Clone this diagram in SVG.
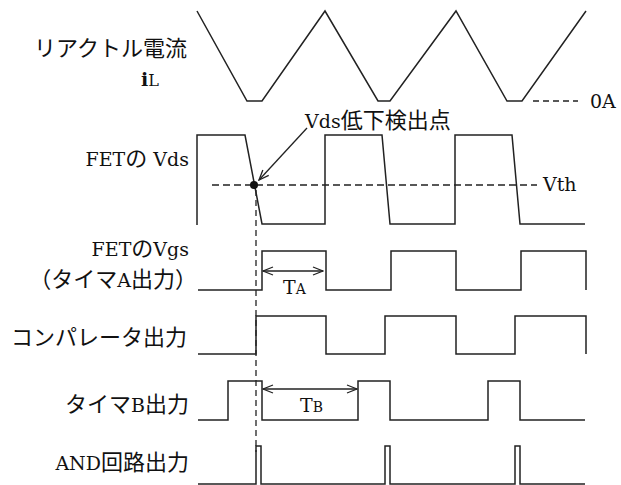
<svg xmlns="http://www.w3.org/2000/svg" width="621" height="485" viewBox="0 0 621 485">
<style>
text{font-family:"DejaVu Serif","Noto Sans CJK JP",serif;fill:#111;font-size:19px}
.j{font-family:"Noto Sans CJK JP",sans-serif;font-size:22px}
.s{font-size:14px}
.w{fill:none;stroke:#222;stroke-width:1.5}
.d{fill:none;stroke:#222;stroke-width:1.3;stroke-dasharray:7 4}
.dv{fill:none;stroke:#222;stroke-width:1.3;stroke-dasharray:6 4}
.a{fill:none;stroke:#222;stroke-width:1.3}
</style>
<defs>
<marker id="ah" markerWidth="12" markerHeight="10" refX="11" refY="5" orient="auto-start-reverse" markerUnits="userSpaceOnUse">
<path d="M1,1 L11,5 L1,9" fill="none" stroke="#222" stroke-width="1.3"/>
</marker>
</defs>
<rect width="621" height="485" fill="#fff"/>
<g id="il">
<text x="187" y="56" text-anchor="end" class="j">リアクトル電流</text>
<text x="141" y="86" font-weight="bold" font-size="22">i<tspan font-size="16" font-weight="normal">L</tspan></text>
<path class="w" d="M197,11 L247,101 L262,101 L325,11 L378,101 L390,101 L456,11 L507,101 L522,101 L586,11"/>
<path class="dv" d="M533,101 H578" stroke-dasharray="5 4"/>
<text x="590" y="108">0A</text>
</g>
<g id="vds">
<text x="189" y="166" text-anchor="end">FET<tspan class="j">の</tspan> Vds</text>
<path class="w" d="M197,225 V135 H245 L262,224 H325 V135 H382 L390,224 H455 V135 H512 L520,224 H585"/>
<text x="543" y="191">Vth</text>
<text x="305" y="128">Vds<tspan class="j">低下検出点</tspan></text>
</g>
<g id="vgs">
<text x="189" y="256" text-anchor="end">FET<tspan class="j" font-size="20">の</tspan>Vgs</text>
<text x="197" y="287" text-anchor="end"><tspan class="j">（タイマ</tspan>A<tspan class="j">出力）</tspan></text>
<path class="w" d="M198,290 H262 V251 H326 V290 H391 V251 H456 V290 H521 V251 H586 V290"/>
<text x="283" y="294">T<tspan class="s">A</tspan></text>
</g>
<g id="comp">
<text x="187" y="345" text-anchor="end" class="j">コンパレータ出力</text>
<path class="w" d="M198,354 H256 V316 H326 V354 H385 V316 H456 V354 H515 V316 H586 V354"/>
</g>
<g id="timerb">
<text x="189" y="412" text-anchor="end"><tspan class="j">タイマ</tspan>B<tspan class="j">出力</tspan></text>
<path class="w" d="M198,420 H228 V381 H262 V420 H358 V381 H390 V420 H488 V381 H520 V420 H585"/>
<text x="300" y="412">T<tspan class="s">B</tspan></text>
</g>
<g id="and">
<text x="189" y="470" text-anchor="end">AND<tspan class="j">回路出力</tspan></text>
<path class="w" d="M198,484 H256 V446 H261 V484 H385 V446 H390 V484 H515 V446 H520 V484 H585"/>
</g>
<g id="connectors">
<path class="d" d="M212,185 H537"/>
<circle cx="254" cy="185" r="4" fill="#111"/>
<path class="dv" d="M256,190 V452"/>
<path class="a" d="M307,128 L259,180" marker-end="url(#ah)"/>
<path class="a" d="M263,271 H323" marker-start="url(#ah)" marker-end="url(#ah)"/>
<path class="a" d="M263,389 H357" marker-start="url(#ah)" marker-end="url(#ah)"/>
</g>
</svg>
